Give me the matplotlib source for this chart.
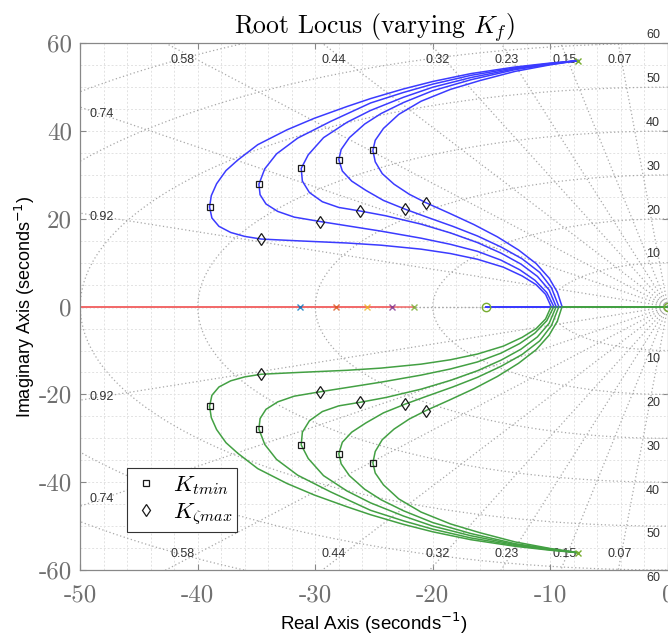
import numpy as np
import matplotlib
matplotlib.use('Agg')
import matplotlib.pyplot as plt
from matplotlib.font_manager import FontProperties
from matplotlib.ticker import MultipleLocator

plt.rcParams['mathtext.fontset'] = 'cm'
plt.rcParams['axes.unicode_minus'] = False
plt.rcParams['axes.formatter.use_mathtext'] = True

# ---- data (upper half, lower half is the conjugate) ----
pole_cx, pole_cy = -7.65, 56.05
real_poles = [-31.33, -28.2, -25.6, -23.43, -21.64]
zero_x = -15.47
breakin = [-9.93, -9.7, -9.5, -9.27, -9.0]

branch1_x = [-7.65, -10, -13, -16.75, -20, -22.5, -25.3, -27.3, -30.1, -32.4, -34.9, -36.6, -37.6, -38.4,
             -38.85, -39.0, -38.8, -38.2, -37.2, -36.0, -34.6, -31.5, -27.3, -24.4, -21.0, -18.5, -16.2,
             -14.0, -12.4, -11.2, -10.4, -9.93]
branch1_y = [56.05, 55.5, 54.6, 53.1, 51.3, 49.6, 47.4, 45.6, 42.9, 40.3, 36.9, 33.4, 31.0, 28.0,
             25.3, 22.7, 20.2, 18.3, 16.9, 16.0, 15.4, 15.0, 14.5, 14.0, 13.1, 12.1, 10.8,
             9.0, 7.0, 5.0, 2.8, 0]
branch2_x = [-7.65, -10, -13, -16.75, -20, -22.5, -25.3, -28.7, -31.5, -33.3, -34.3, -34.8, -34.7, -34.2,
             -33.2, -31.8, -29.6, -27.0, -24.4, -21.0, -18.5, -16.2, -14.2, -12.6, -11.3, -10.3, -9.7]
branch2_y = [56.05, 55.4, 54.4, 52.7, 50.7, 48.8, 46.4, 42.2, 38.4, 34.8, 31.4, 27.9, 25.5, 23.4,
             21.7, 20.4, 19.4, 18.3, 17.2, 15.6, 14.2, 12.6, 10.6, 8.4, 6.0, 3.2, 0]
branch3_x = [-7.65, -10, -13, -16.75, -20, -22.5, -25.3, -27.3, -29.3, -30.6, -31.2, -31.1, -30.5, -29.4,
             -28.0, -26.2, -24.0, -21.0, -18.5, -16.2, -14.2, -12.5, -11.1, -10.1, -9.5]
branch3_y = [56.05, 55.3, 54.2, 52.2, 50.0, 47.7, 44.7, 42.0, 38.5, 34.6, 31.5, 28.6, 26.0, 23.9,
             22.6, 21.8, 20.7, 18.8, 16.8, 14.6, 12.2, 9.7, 6.9, 3.8, 0]
branch4_x = [-7.65, -10, -13, -16.75, -20, -22.5, -24.4, -25.8, -27.1, -27.8, -28.0, -27.7, -26.9, -25.7,
             -24.2, -22.35, -20.4, -18.3, -16.2, -14.2, -12.4, -10.9, -9.9, -9.27]
branch4_y = [56.05, 55.2, 54.0, 51.7, 49.2, 46.5, 44.0, 41.6, 38.5, 35.8, 33.5, 30.9, 28.6, 26.5,
             24.2, 22.2, 20.3, 18.3, 16.1, 13.6, 10.9, 7.8, 4.3, 0]
branch5_x = [-7.65, -10, -13, -16.0, -18.5, -21.0, -22.9, -24.2, -24.9, -25.1, -24.9, -24.3, -23.3,
             -22.0, -20.6, -18.6, -16.5, -14.5, -12.7, -11.2, -10.1, -9.4, -9.0]
branch5_y = [56.05, 55.1, 53.6, 51.5, 49.5, 46.8, 43.8, 40.6, 37.9, 35.6, 33.0, 30.3, 27.9,
             25.6, 23.7, 21.3, 18.7, 15.9, 12.9, 9.8, 6.5, 3.3, 0]

ktmin_x = [-38.98, -34.8, -31.2, -28.0, -25.1]
ktmin_y = [22.7, 27.9, 31.5, 33.5, 35.6]
kzeta_x = [-34.6, -29.6, -26.2, -22.35, -20.6]
kzeta_y = [15.4, 19.4, 21.8, 22.2, 23.7]

zetas = [0.07, 0.15, 0.23, 0.32, 0.44, 0.58, 0.74, 0.92]
wns = [10, 20, 30, 40, 50, 60, 70]
x_ticks = [-50, -40, -30, -20, -10, 0]
y_ticks = [-60, -40, -20, 0, 20, 40, 60]

pole_colors = ['#0072bd', '#d95319', '#edb120', '#7e2f8e', '#77ac30']
c_blue = '#3b3bff'
c_green = '#43a043'
c_red = '#f26b6b'
c_sgrid = '#a8a8a8'
c_tick = '#707070'

fig = plt.figure(figsize=(6.68, 6.39), dpi=100)
ax = fig.add_axes([80.3 / 668, 1 - 570 / 639, (667.8 - 80.3) / 668, (570 - 43.3) / 639])
ax.set_xlim(-50, 0)
ax.set_ylim(-60, 60)

# sgrid: damping rays and natural-frequency circles
for z in zetas + [1.0]:
    for s in (1, -1):
        ax.plot([0, -z * 120], [0, s * np.sqrt(1 - z * z) * 120], linestyle=(0, (1, 2)),
                color=c_sgrid, lw=0.9, zorder=1)
th = np.linspace(np.pi / 2, 3 * np.pi / 2, 400)
for wn in wns:
    ax.plot(wn * np.cos(th), wn * np.sin(th), linestyle=(0, (1, 2)), color=c_sgrid, lw=0.9, zorder=1)

lab_kw = dict(fontfamily='Liberation Sans', fontsize=9, color='#333333', zorder=2)
for z in zetas:
    if z < 0.7:
        xz = -58 * z / np.sqrt(1 - z * z)
        for s in (1, -1):
            ax.text(xz, s * 56.3, f'{z:.2f}', ha='center', va='center', **lab_kw)
    else:
        yz = 48.2 * np.sqrt(1 - z * z) / z
        for s in (1, -1):
            ax.text(-48.2, s * yz, f'{z:.2f}', ha='center', va='center', **lab_kw)
for wn in wns[:-1]:
    for s in (1, -1):
        ax.text(-1.25, s * (wn + 1.9), f'{wn}', ha='center', va='center', clip_on=False, **lab_kw)

# real-axis parts of the loci
for p in real_poles:
    ax.plot([-60, p], [0, 0], color=c_red, lw=1.4, alpha=0.8, zorder=2)
for b in breakin:
    ax.plot([zero_x, b], [0, 0], color=c_blue, lw=1.2, alpha=0.8, zorder=2)
    ax.plot([b, 0], [0, 0], color=c_green, lw=1.2, alpha=0.8, zorder=2)

branches = [(branch1_x, branch1_y), (branch2_x, branch2_y), (branch3_x, branch3_y),
            (branch4_x, branch4_y), (branch5_x, branch5_y)]
for bx, by in branches:
    ax.plot(bx, by, color=c_blue, lw=1.1, zorder=3, solid_joinstyle='round')
    ax.plot(bx, [-v for v in by], color=c_green, lw=1.1, zorder=3, solid_joinstyle='round')

for p, c in zip(real_poles, pole_colors):
    ax.plot(p, 0, 'x', color=c, ms=5, mew=1.0, alpha=0.8, zorder=4)
ax.plot([pole_cx, pole_cx], [pole_cy, -pole_cy], 'x', color=pole_colors[-1], ms=5, mew=1.0, zorder=4)
ax.plot([zero_x, 0], [0, 0], 'o', mfc='none', mec=pole_colors[-1], ms=6, mew=1.0, zorder=4, clip_on=False)

mk = dict(mfc='none', mec='#1a1a1a', mew=0.9, linestyle='none', zorder=5)
h1, = ax.plot(ktmin_x, ktmin_y, 's', ms=5, label=r'$K_{tmin}$', **mk)
ax.plot(ktmin_x, [-v for v in ktmin_y], 's', ms=5, **mk)
h2, = ax.plot(kzeta_x, kzeta_y, 'd', ms=6.5, label=r'$K_{\zeta max}$', **mk)
ax.plot(kzeta_x, [-v for v in kzeta_y], 'd', ms=6.5, **mk)

leg = ax.legend(handles=[h1, h2], loc='lower left', bbox_to_anchor=(0.08, 0.0727), borderaxespad=0,
                prop=FontProperties(size=16.5, math_fontfamily='cm'), fancybox=False, framealpha=1,
                edgecolor='#333333', handlelength=1.2, handletextpad=0.6, borderpad=0.2, labelspacing=0.15)
leg.get_frame().set_linewidth(0.8)
leg.set_zorder(10)

# axes decoration
ax.xaxis.set_minor_locator(MultipleLocator(2))
ax.yaxis.set_minor_locator(MultipleLocator(5))
ax.grid(which='both', color='#e2e2e2', linestyle=(0, (2, 2)), lw=0.7, zorder=0)
ax.set_axisbelow(True)
ax.set_xticks(x_ticks)
ax.set_xticklabels([str(t) for t in x_ticks], fontfamily='cmr10', fontsize=18, color=c_tick)
ax.set_yticks(y_ticks)
ax.set_yticklabels([str(t) for t in y_ticks], fontfamily='cmr10', fontsize=18, color=c_tick)
ax.tick_params(which='major', direction='in', top=True, right=True, length=4, color='#888888', pad=6)
ax.tick_params(axis='x', which='major', pad=10)
ax.tick_params(which='minor', length=0)
for sp in ax.spines.values():
    sp.set_color('#888888')
    sp.set_linewidth(0.9)

ax.set_title(r'Root Locus (varying $K_f$)', fontfamily='cmr10', fontsize=18.5, math_fontfamily='cm', pad=7)
ax.set_xlabel(r'Real Axis (seconds$^{-1}$)', fontfamily='Liberation Sans', fontsize=13.5,
              math_fontfamily='dejavusans', labelpad=3)
ax.set_ylabel(r'Imaginary Axis (seconds$^{-1}$)', fontfamily='Liberation Sans', fontsize=13,
              math_fontfamily='dejavusans', labelpad=1)

fig.savefig('out.png', dpi=100)
